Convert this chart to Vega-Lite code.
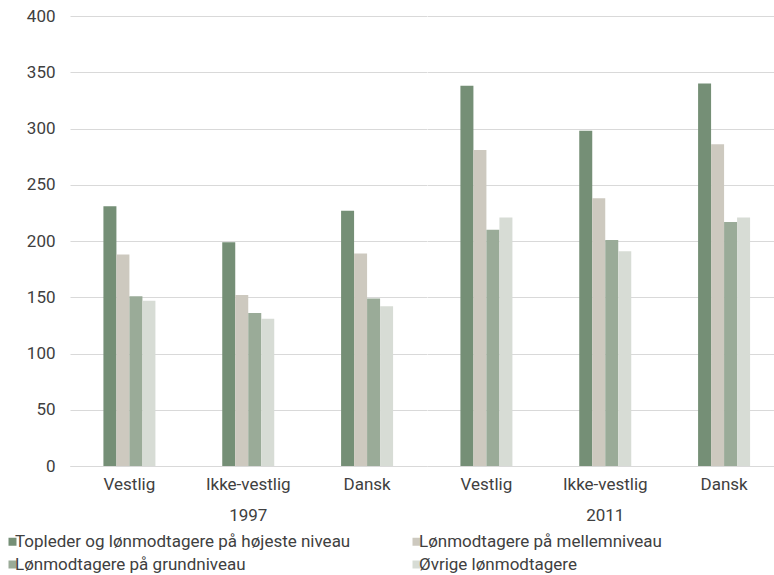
{
  "$schema": "https://vega.github.io/schema/vega-lite/v6.json",
  "padding": {"left": 4, "top": 7, "right": 0, "bottom": 0},
  "background": "white",
  "data": {"values": [
    {"year": "1997", "origin": "Vestlig", "series": "Topleder og lønmodtagere på højeste niveau", "value": 231},
    {"year": "1997", "origin": "Vestlig", "series": "Lønmodtagere på mellemniveau", "value": 188},
    {"year": "1997", "origin": "Vestlig", "series": "Lønmodtagere på grundniveau", "value": 151},
    {"year": "1997", "origin": "Vestlig", "series": "Øvrige lønmodtagere", "value": 147},
    {"year": "1997", "origin": "Ikke-vestlig", "series": "Topleder og lønmodtagere på højeste niveau", "value": 199},
    {"year": "1997", "origin": "Ikke-vestlig", "series": "Lønmodtagere på mellemniveau", "value": 152},
    {"year": "1997", "origin": "Ikke-vestlig", "series": "Lønmodtagere på grundniveau", "value": 136},
    {"year": "1997", "origin": "Ikke-vestlig", "series": "Øvrige lønmodtagere", "value": 131},
    {"year": "1997", "origin": "Dansk", "series": "Topleder og lønmodtagere på højeste niveau", "value": 227},
    {"year": "1997", "origin": "Dansk", "series": "Lønmodtagere på mellemniveau", "value": 189},
    {"year": "1997", "origin": "Dansk", "series": "Lønmodtagere på grundniveau", "value": 149},
    {"year": "1997", "origin": "Dansk", "series": "Øvrige lønmodtagere", "value": 142},
    {"year": "2011", "origin": "Vestlig", "series": "Topleder og lønmodtagere på højeste niveau", "value": 338},
    {"year": "2011", "origin": "Vestlig", "series": "Lønmodtagere på mellemniveau", "value": 281},
    {"year": "2011", "origin": "Vestlig", "series": "Lønmodtagere på grundniveau", "value": 210},
    {"year": "2011", "origin": "Vestlig", "series": "Øvrige lønmodtagere", "value": 221},
    {"year": "2011", "origin": "Ikke-vestlig", "series": "Topleder og lønmodtagere på højeste niveau", "value": 298},
    {"year": "2011", "origin": "Ikke-vestlig", "series": "Lønmodtagere på mellemniveau", "value": 238},
    {"year": "2011", "origin": "Ikke-vestlig", "series": "Lønmodtagere på grundniveau", "value": 201},
    {"year": "2011", "origin": "Ikke-vestlig", "series": "Øvrige lønmodtagere", "value": 191},
    {"year": "2011", "origin": "Dansk", "series": "Topleder og lønmodtagere på højeste niveau", "value": 340},
    {"year": "2011", "origin": "Dansk", "series": "Lønmodtagere på mellemniveau", "value": 286},
    {"year": "2011", "origin": "Dansk", "series": "Lønmodtagere på grundniveau", "value": 217},
    {"year": "2011", "origin": "Dansk", "series": "Øvrige lønmodtagere", "value": 221}
  ]},
  "facet": {
    "column": {
      "field": "year", "type": "ordinal",
      "header": {"title": null, "labelOrient": "bottom", "labelFont": "Roboto", "labelFontSize": 17, "labelColor": "#404040", "labelPadding": 16}
    }
  },
  "spacing": 0,
  "spec": {
    "width": 356.5,
    "height": 450,
    "mark": {"type": "bar"},
    "encoding": {
      "x": {
        "field": "origin", "type": "nominal",
        "sort": ["Vestlig", "Ikke-vestlig", "Dansk"],
        "scale": {"paddingInner": 0.5624, "paddingOuter": 0.2812},
        "axis": {"title": null, "labelAngle": 0, "ticks": false, "domainColor": "#d0d0d0", "labelPadding": 10, "labelFont": "Roboto", "labelFontSize": 17, "labelColor": "#404040"}
      },
      "xOffset": {
        "field": "series", "type": "nominal",
        "sort": ["Topleder og lønmodtagere på højeste niveau", "Lønmodtagere på mellemniveau", "Lønmodtagere på grundniveau", "Øvrige lønmodtagere"],
        "scale": {"paddingInner": 0, "paddingOuter": 0}
      },
      "y": {
        "field": "value", "type": "quantitative",
        "scale": {"domain": [0, 400], "nice": false},
        "axis": {"title": null, "values": [0, 50, 100, 150, 200, 250, 300, 350, 400], "ticks": false, "domain": false, "gridColor": "#d9d9d9", "labelPadding": 15, "labelFont": "Roboto", "labelFontSize": 17, "labelColor": "#404040"}
      },
      "color": {
        "field": "series", "type": "nominal",
        "sort": ["Topleder og lønmodtagere på højeste niveau", "Lønmodtagere på mellemniveau", "Lønmodtagere på grundniveau", "Øvrige lønmodtagere"],
        "scale": {"range": ["#758f76", "#cdc9bf", "#9aab98", "#d7dcd5"]},
        "legend": {
          "title": null, "orient": "none", "legendX": -66, "legendY": 517, "padding": 0,
          "direction": "horizontal", "columns": 2, "columnPadding": 57, "rowPadding": 5,
          "symbolType": "square", "symbolSize": 64, "symbolStrokeWidth": 0, "symbolOffset": 0,
          "labelOffset": -6, "labelLimit": 420,
          "labelFont": "Roboto", "labelFontSize": 17, "labelColor": "#404040"
        }
      }
    }
  },
  "config": {"view": {"stroke": null}}
}
